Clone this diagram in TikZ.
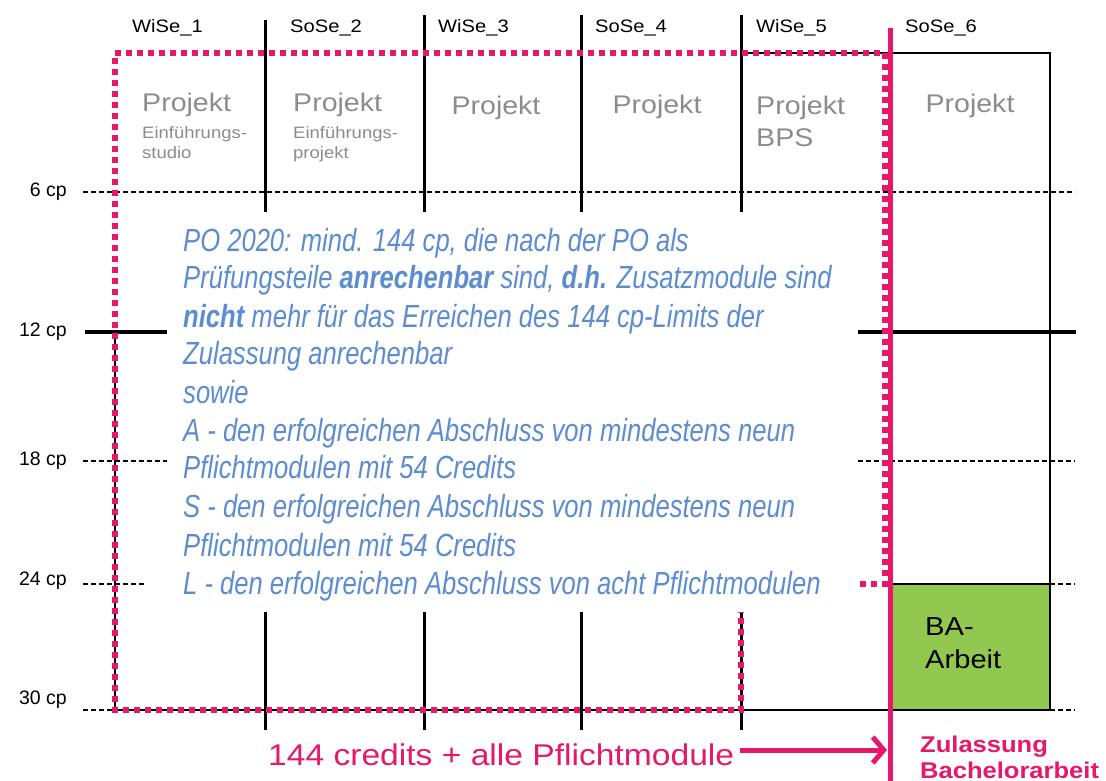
\documentclass[tikz,border=0pt]{standalone}
\usepackage{fontspec}
\setmainfont{Liberation Sans}
\newfontfamily\mainw[FakeStretch=1.12]{Liberation Sans}
\newfontfamily\narrowf[FakeStretch=0.8]{Liberation Sans}
\usetikzlibrary{arrows.meta}
\definecolor{pinkc}{HTML}{E5186A}
\definecolor{bluec}{HTML}{5B8DD0}
\definecolor{grayc}{HTML}{8C8C8C}
\definecolor{greenc}{HTML}{92C850}
\begin{document}
\begin{tikzpicture}[x=1pt,y=-1pt,
  colline/.style={line width=3pt},
  boxline/.style={line width=1.8pt},
  cpdash/.style={line width=1.3pt,dash pattern=on 5pt off 3pt},
  cpthick/.style={line width=4pt},
  pinkdots/.style={draw=pinkc,line width=6pt,dash pattern=on 6pt off 5pt},
  pinkbar/.style={draw=pinkc,line width=5pt},
  hdr/.style={font=\mainw\fontsize{18}{20}\selectfont,anchor=base west,inner sep=0pt},
  cplab/.style={font=\fontsize{19.5}{22}\selectfont,anchor=east,inner sep=0pt},
  proj/.style={font=\mainw\fontsize{25.5}{28}\selectfont,text=grayc,inner sep=0pt},
  projsub/.style={font=\mainw\fontsize{16.5}{19}\selectfont,text=grayc,anchor=base west,inner sep=0pt},
  bluetxt/.style={font=\narrowf\itshape\fontsize{32}{38}\selectfont,text=bluec,anchor=base west,inner sep=0pt},
  batxt/.style={font=\mainw\fontsize{26}{30}\selectfont,anchor=base west,inner sep=0pt},
  zultxt/.style={font=\mainw\bfseries\fontsize{22.8}{26}\selectfont,text=pinkc,anchor=base west,inner sep=0pt},
  credtxt/.style={font=\mainw\fontsize{30}{32}\selectfont,text=pinkc,anchor=base west,inner sep=0pt}
]
\useasboundingbox (0,0) rectangle (1106,781);
\fill[white] (0,0) rectangle (1106,781);

% green box
\fill[greenc] (891,584) rectangle (1050,710);

% grid
\draw[boxline] (741,53) -- (1050,53) -- (1050,710);
\draw[boxline] (890,53) -- (890,710);
\draw[boxline] (115,332) -- (115,710);
\draw[boxline] (115,710) -- (1050,710);
\draw[boxline] (890,584) -- (1050,584);
\foreach \x/\t in {265/20,424/15,581/15,741/15}{
  \draw[colline] (\x,\t) -- (\x,212);
  \draw[colline] (\x,612) -- (\x,730);
}
\draw[cpdash] (83,192) -- (1075,192);
\draw[cpthick] (85,332) -- (167,332);
\draw[cpthick] (858,332) -- (1076,332);
\draw[cpdash] (83,461) -- (167,461);
\draw[cpdash] (858,461) -- (1075,461);
\draw[cpdash] (83,584) -- (145,584);
\draw[cpdash] (1050,584) -- (1075,584);
\draw[cpdash] (83,710) -- (115,710);
\draw[cpdash] (1050,710) -- (1075,710);

% pink dotted frame
\draw[pinkdots] (860,584) -- (885,584) -- (885,53) -- (115,53) -- (115,710) -- (741,710) -- (741,612);
% pink solid bar
\draw[pinkbar] (890,28) -- (890,781);

% headers
\node[hdr] (h1) at (132,33) {WiSe\_1};
\node[hdr] (h2) at (290,33) {SoSe\_2};
\node[hdr] (h3) at (438,33) {WiSe\_3};
\node[hdr] (h4) at (595,33) {SoSe\_4};
\node[hdr] (h5) at (756,33) {WiSe\_5};
\node[hdr] (h6) at (905,33) {SoSe\_6};

% cp labels
\node[cplab] (c6) at (67,192) {6 cp};
\node[cplab] (c12) at (67,332) {12 cp};
\node[cplab] (c18) at (67,461) {18 cp};
\node[cplab] (c24) at (67,581) {24 cp};
\node[cplab] (c30) at (67,700) {30 cp};

% Projekt labels
\node[proj,anchor=base west] (p1) at (142,112) {Projekt};
\node[projsub] (p1a) at (142,139) {Einführungs-};
\node[projsub] (p1b) at (142,159) {studio};
\node[proj,anchor=base west] (p2) at (293,112) {Projekt};
\node[projsub] (p2a) at (293,139) {Einführungs-};
\node[projsub] (p2b) at (293,159) {projekt};
\node[proj,anchor=base] (p3) at (496,115) {Projekt};
\node[proj,anchor=base] (p4) at (657,114) {Projekt};
\node[proj,anchor=base west] (p5) at (756,115) {Projekt};
\node[proj,anchor=base west] (p5a) at (756,147) {BPS};
\node[proj,anchor=base] (p6) at (970,113) {Projekt};

% blue text
\node[bluetxt] (t1) at (183,251) {PO 2020: mind. 144 cp, die nach der PO als};
\node[bluetxt] (t2) at (183,288) {Prüfungsteile \textbf{anrechenbar} sind, \textbf{d.h.} Zusatzmodule sind};
\node[bluetxt] (t3) at (183,327) {\textbf{nicht} mehr für das Erreichen des 144 cp-Limits der};
\node[bluetxt] (t4) at (183,364) {Zulassung anrechenbar};
\node[bluetxt] (t5) at (183,403) {sowie};
\node[bluetxt] (t6) at (183,441) {A - den erfolgreichen Abschluss von mindestens neun};
\node[bluetxt] (t7) at (183,478) {Pflichtmodulen mit 54 Credits};
\node[bluetxt] (t8) at (183,517) {S - den erfolgreichen Abschluss von mindestens neun};
\node[bluetxt] (t9) at (183,556) {Pflichtmodulen mit 54 Credits};
\node[bluetxt] (t10) at (183,594) {L - den erfolgreichen Abschluss von acht Pflichtmodulen};

% BA box text
\node[batxt] (ba1) at (925,635) {BA-};
\node[batxt] (ba2) at (925,668) {Arbeit};

% bottom
\node[credtxt] (cred) at (268,765) {144 credits + alle Pflichtmodule};
\node[zultxt] (z1) at (920,752) {Zulassung};
\node[zultxt] (z2) at (920,778) {Bachelorarbeit};
\coordinate (zul) at (887,750);
\draw[pinkc,line width=5pt,-{Straight Barb[length=11pt,width=26pt]}] (cred.east |- zul) ++(6,0) -- (zul);
\end{tikzpicture}
\end{document}
